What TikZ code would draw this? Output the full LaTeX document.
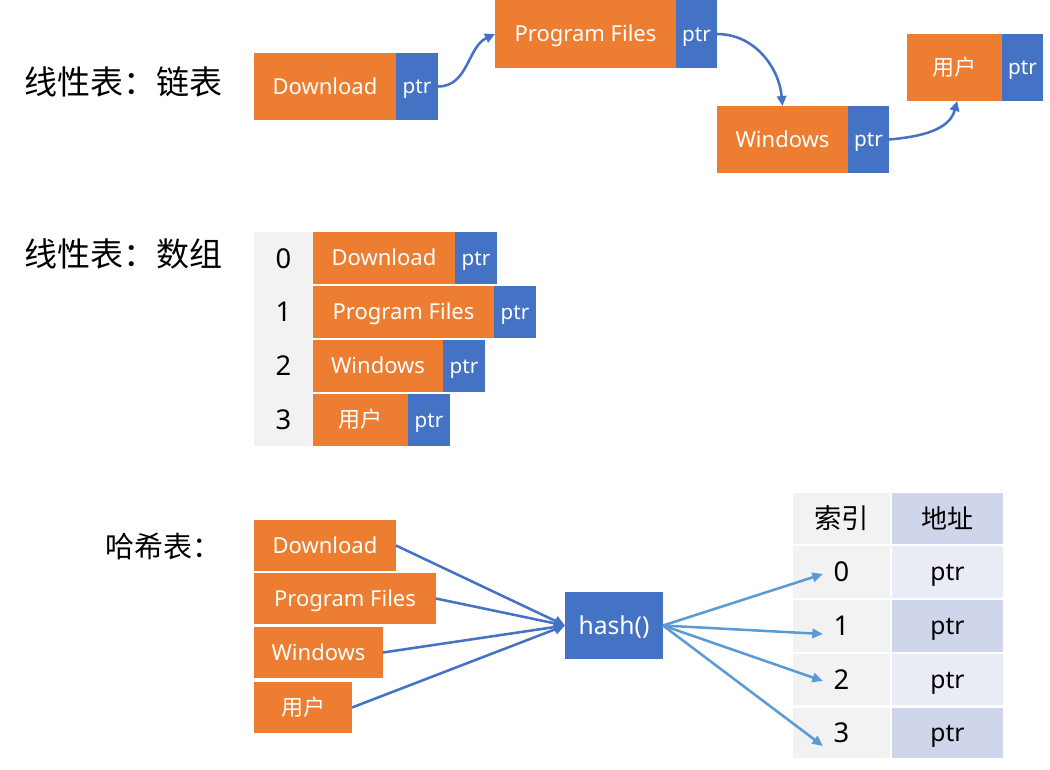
\documentclass[tikz,border=0pt]{standalone}
\usepackage{fontspec}
\setmainfont{Noto Sans}
\newfontfamily\cjk{Noto Sans CJK SC}
\usetikzlibrary{arrows.meta}
\definecolor{orng}{HTML}{ED7D31}
\definecolor{blu}{HTML}{4472C4}
\definecolor{lblu}{HTML}{5B9BD5}
\definecolor{gry}{HTML}{F2F2F2}
\definecolor{tbA}{HTML}{CFD5EA}
\definecolor{tbB}{HTML}{E9EBF5}
\newcommand\mybox[7]{%
 \pgfmathsetmacro\bxcx{(#3+#5)/2}\pgfmathsetmacro\bxcy{(#4+#6)/2}%
 \pgfmathsetmacro\bxw{(#5-#3)*0.75}\pgfmathsetmacro\bxh{(#6-#4)*0.75}%
 \node[#1, minimum width=\bxw pt, minimum height=\bxh pt] (#2) at (\bxcx,\bxcy) {#7};}
\begin{document}
\begin{tikzpicture}[x=0.75pt,y=-0.75pt,
  box/.style={inner sep=0pt, outer sep=0pt, text=white, text height=11.8pt, text depth=0pt, font=\fontsize{16.5}{18}\selectfont},
  obox/.style={box, fill=orng},
  pbox/.style={box, fill=blu, text height=11.1pt, font=\fontsize{15.5}{17}\selectfont},
  cell/.style={inner sep=0pt, outer sep=0pt, text=black, text height=14.6pt, text depth=0pt, font=\fontsize{20.5}{22}\selectfont},
  pcell/.style={cell, text height=13.2pt, font=\fontsize{18.5}{20}\selectfont},
  title/.style={anchor=west, inner sep=0pt, text=black, font=\cjk\fontsize{24.75}{27}\selectfont},
  link/.style={draw=blu, line width=1.9pt, -{Triangle[length=7.5pt,width=7pt]}},
  inarr/.style={draw=blu, line width=1.9pt, -{Triangle[length=8pt,width=7.5pt]}},
  outarr/.style={draw=lblu, line width=1.9pt, -{Triangle[length=8pt,width=7pt]}}
]
\useasboundingbox (0,0) rectangle (1050,769);

% ---------- linked list ----------
\node[title] (t1) at (24,82) {线性表：链表};
\mybox{obox}{a1}{254}{53}{396}{120}{Download}
\mybox{pbox}{a1p}{396}{53}{438}{120}{ptr}
\mybox{obox}{a2}{495}{0}{676}{68}{Program Files}
\mybox{pbox}{a2p}{676}{0}{717}{68}{ptr}
\mybox{obox}{a3}{717}{106}{848}{173}{Windows}
\mybox{pbox}{a3p}{848}{106}{889}{173}{ptr}
\mybox{obox}{a4}{907}{34}{1002}{101}{\cjk 用户}
\mybox{pbox}{a4p}{1002}{34}{1043}{101}{ptr}
\draw[link] (a1p.east) to[out=0, in=205] (a2.west);
\draw[link] (a2p.east) to[out=0, in=95] (a3.north);
\draw[link] (a3p.east) to[out=5, in=-105] ([xshift=2pt]a4.south);

% ---------- array ----------
\node[title] (t2) at (24,254) {线性表：数组};
\mybox{cell, fill=gry}{i0}{254}{232}{313}{285}{0}
\mybox{cell, fill=gry}{i1}{254}{285}{313}{339}{1}
\mybox{cell, fill=gry}{i2}{254}{339}{313}{393}{2}
\mybox{cell, fill=gry}{i3}{254}{393}{313}{446}{3}
\mybox{obox}{b0}{313}{232}{455}{284}{Download}
\mybox{pbox}{b0p}{455}{232}{497}{284}{ptr}
\mybox{obox}{b1}{313}{286}{494}{338}{Program Files}
\mybox{pbox}{b1p}{494}{286}{536}{338}{ptr}
\mybox{obox}{b2}{313}{340}{443}{392}{Windows}
\mybox{pbox}{b2p}{443}{340}{485}{392}{ptr}
\mybox{obox}{b3}{313}{394}{408}{446}{\cjk 用户}
\mybox{pbox}{b3p}{408}{394}{450}{446}{ptr}

% ---------- hash ----------
\node[title, font=\cjk\fontsize{21.75}{24}\selectfont] (t3) at (105,546) {哈希表：};
\mybox{obox}{h0}{254}{520}{396}{571}{Download}
\mybox{obox}{h1}{254}{573}{436}{624}{Program Files}
\mybox{obox}{h2}{254}{627}{383}{678}{Windows}
\mybox{obox}{h3}{254}{682}{352}{733}{\cjk 用户}
\mybox{box, fill=blu, text height=13.2pt, font=\fontsize{18.5}{20}\selectfont}{hf}{565}{592}{663}{659}{hash()}
\draw[inarr] (h0.east) -- (hf.west);
\draw[inarr] (h1.east) -- (hf.west);
\draw[inarr] (h2.east) -- (hf.west);
\draw[inarr] (h3.east) -- (hf.west);

% table
\mybox{cell, fill=gry, font=\cjk\fontsize{20.5}{22}\selectfont}{th1}{793}{493}{890}{544}{索引}
\mybox{cell, fill=tbA, font=\cjk\fontsize{19.5}{22}\selectfont}{th2}{892}{493}{1003}{544}{地址}
\mybox{cell, fill=gry}{r0}{793}{546}{890}{598}{0}
\mybox{pcell, fill=tbB}{p0}{892}{546}{1003}{598}{ptr}
\mybox{cell, fill=gry}{r1}{793}{600}{890}{652}{1}
\mybox{pcell, fill=tbA}{p1}{892}{600}{1003}{652}{ptr}
\mybox{cell, fill=gry}{r2}{793}{654}{890}{705}{2}
\mybox{pcell, fill=tbB}{p2}{892}{654}{1003}{705}{ptr}
\mybox{cell, fill=gry}{r3}{793}{708}{890}{758}{3}
\mybox{pcell, fill=tbA}{p3}{892}{708}{1003}{758}{ptr}
\coordinate (e0) at (823,574);
\coordinate (e1) at (823,634);
\coordinate (e2) at (823,681);
\coordinate (e3) at (823,746);
\draw[outarr] (hf.east) -- (e0);
\draw[outarr] (hf.east) -- (e1);
\draw[outarr] (hf.east) -- (e2);
\draw[outarr] (hf.east) -- (e3);
\end{tikzpicture}
\end{document}
